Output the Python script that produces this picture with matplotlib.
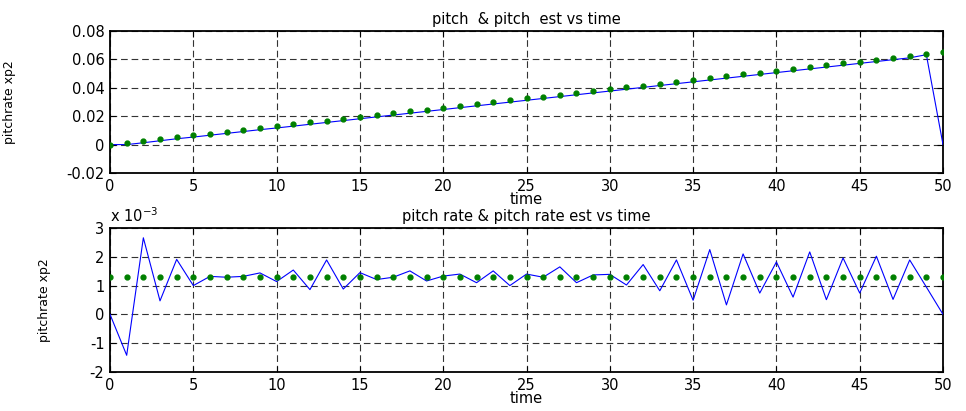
import matplotlib
matplotlib.use("Agg")
import matplotlib.pyplot as plt
import numpy as np
from matplotlib.ticker import FuncFormatter

plt.rcParams['font.family'] = ['DejaVu Sans']

t = np.arange(0, 51)

# top plot: pitch (blue line) and pitch est (green dots)
pitch = [0.0, 0.0, 0.0013, 0.0027, 0.0041, 0.0053, 0.0066, 0.0079, 0.0092, 0.0105,
         0.0117, 0.0130, 0.0143, 0.0156, 0.0169, 0.0182, 0.0195, 0.0208, 0.0221, 0.0234,
         0.0247, 0.0260, 0.0273, 0.0286, 0.0299, 0.0312, 0.0325, 0.0338, 0.0351, 0.0364,
         0.0377, 0.0390, 0.0403, 0.0416, 0.0429, 0.0442, 0.0455, 0.0468, 0.0481, 0.0494,
         0.0507, 0.0520, 0.0533, 0.0546, 0.0559, 0.0572, 0.0585, 0.0598, 0.0611, 0.0633,
         0.0]
pitch_est = [0.0, 0.0013, 0.0026, 0.0039, 0.0052, 0.0065, 0.0078, 0.0091, 0.0104, 0.0117,
             0.0130, 0.0143, 0.0156, 0.0169, 0.0182, 0.0195, 0.0208, 0.0221, 0.0234, 0.0247,
             0.0260, 0.0273, 0.0286, 0.0299, 0.0312, 0.0325, 0.0338, 0.0351, 0.0364, 0.0377,
             0.0390, 0.0403, 0.0416, 0.0429, 0.0442, 0.0455, 0.0468, 0.0481, 0.0494, 0.0507,
             0.0520, 0.0533, 0.0546, 0.0559, 0.0572, 0.0585, 0.0598, 0.0611, 0.0624, 0.0637,
             0.0650]

# bottom plot: pitch rate (blue) and pitch rate est (green), in units of 1e-3
rate = [0.0, -1.42, 2.66, 0.47, 1.91, 1.0, 1.32, 1.29, 1.32, 1.44,
        1.14, 1.54, 0.86, 1.89, 0.88, 1.45, 1.21, 1.29, 1.51, 1.16,
        1.33, 1.40, 1.10, 1.51, 1.0, 1.40, 1.29, 1.65, 1.10, 1.37,
        1.39, 1.02, 1.73, 0.82, 1.89, 0.49, 2.25, 0.33, 2.10, 0.74,
        1.82, 0.60, 2.17, 0.51, 1.96, 0.74, 2.02, 0.52, 1.89, 0.95,
        0.0]
rate_est = [1.3] * 51

fig = plt.figure(figsize=(9.66, 4.11), dpi=100)
ax1 = fig.add_axes([0.1139, 0.5791, 0.8623, 0.3455])
ax2 = fig.add_axes([0.1139, 0.0949, 0.8623, 0.3504])

green = '#008000'
grid_kw = dict(color='0.2', linestyle=(0, (6, 3.5)), linewidth=0.8)
fs = 10.5

ax1.plot(t, pitch, color='#0000ff', linewidth=0.8, zorder=3)
ax1.plot(t, pitch_est, '.', color=green, markersize=7, zorder=4)
ax1.set_xlim(0, 50)
ax1.set_ylim(-0.02, 0.08)
ax1.set_yticks([-0.02, 0, 0.02, 0.04, 0.06, 0.08])
ax1.yaxis.set_major_formatter(FuncFormatter(lambda v, p: '0' if abs(v) < 1e-9 else '%.2f' % v))
ax1.set_title('pitch  & pitch  est vs time', fontsize=fs, pad=5)
ax1.set_xlabel('time', fontsize=fs, labelpad=-1)
ax1.set_ylabel('pitchrate xp2', fontsize=9)
ax1.yaxis.set_label_coords(-0.113, 0.5)

r = np.array(rate) * 1e-3
re = np.array(rate_est) * 1e-3
ax2.plot(t, r, color='#0000ff', linewidth=0.8, zorder=3)
ax2.plot(t, re, '.', color=green, markersize=7, zorder=4)
ax2.set_xlim(0, 50)
ax2.set_ylim(-2e-3, 3e-3)
ax2.set_yticks(np.arange(-2, 4) * 1e-3)
ax2.yaxis.set_major_formatter(FuncFormatter(lambda v, p: '%d' % round(v * 1e3)))
ax2.text(0, 1.02, r'x 10$^{-3}$', transform=ax2.transAxes, fontsize=fs, va='bottom')
ax2.set_title('pitch rate & pitch rate est vs time', fontsize=fs, pad=5)
ax2.set_xlabel('time', fontsize=fs, labelpad=-1)
ax2.set_ylabel('pitchrate xp2', fontsize=9)
ax2.yaxis.set_label_coords(-0.071, 0.5)

for ax in (ax1, ax2):
    ax.set_xticks(np.arange(0, 51, 5))
    ax.grid(True, **grid_kw)
    ax.set_axisbelow(True)
    ax.tick_params(direction='in', length=4, labelsize=fs, top=True, right=True, pad=4)
    for s in ax.spines.values():
        s.set_linewidth(1.3)

fig.savefig('out.png', dpi=100)
